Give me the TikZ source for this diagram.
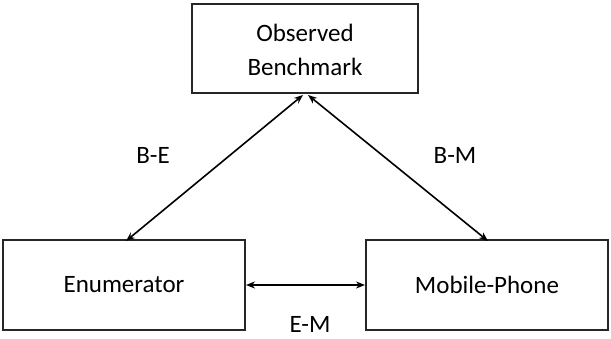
\documentclass[tikz,border=0pt]{standalone}
\usepackage{fontspec}
\setmainfont{Carlito}
\usetikzlibrary{arrows.meta}
\begin{document}
\begin{tikzpicture}[x=1pt,y=-1pt,
  box/.style={draw=black!85,line width=1.4pt},
  lbl/.style={font=\fontsize{25}{30}\selectfont,text=black},
  conn/.style={line width=1.6pt,black,{Stealth[length=9pt,width=7pt]}-{Stealth[length=9pt,width=7pt]}}]
\useasboundingbox (0,0) rectangle (611,339);
\draw[box] (192,4) rectangle (418,93);
\draw[box] (3,240) rectangle (245,330);
\draw[box] (366,240) rectangle (608,330);
\node[lbl,align=center] (B) at (305,50) {Observed\\[4pt]Benchmark};
\node[lbl] (E) at (124,285) {Enumerator};
\node[lbl] (M) at (487,285) {Mobile-Phone};
\coordinate (Btl) at (303,95);
\coordinate (Btr) at (308,95);
\coordinate (El) at (126,241);
\coordinate (Mr) at (488,241);
\coordinate (Er) at (246,285);
\coordinate (Ml) at (365,285);
\draw[conn] (Btl) -- (El);
\draw[conn] (Btr) -- (Mr);
\draw[conn] (Er) -- (Ml);
\node[lbl] (BE) at (153,155) {B-E};
\node[lbl] (BM) at (455,155) {B-M};
\node[lbl] (EM) at (310,324) {E-M};
\end{tikzpicture}
\end{document}
